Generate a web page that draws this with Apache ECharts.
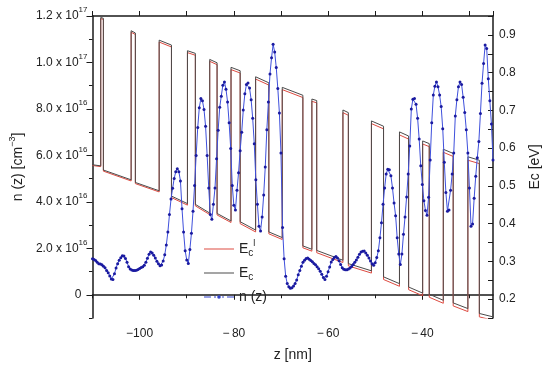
<!DOCTYPE html>
<html><head><meta charset="utf-8">
<script src="https://cdn.jsdelivr.net/npm/echarts@6/dist/echarts.min.js"></script>
<style>html,body{margin:0;padding:0;background:#fff}#c{width:550px;height:367px}</style>
</head><body><div id="c"></div>
<script>
// ---- data ----
const zEdges = [-110, -108.25, -107.69, -101.8, -100.9, -95.85, -93.24, -89.85, -88.17, -85.12, -83.56, -80.6, -78.66, -75.38, -72.57, -69.73, -65.35, -63.44, -62.41, -56.85, -55.7, -50.8, -48.23, -44.85, -42.91, -39.93, -38.53, -35.55, -33.45, -30.33, -27.9, -25];
const ecLeft  = [0.556,0.946,0.542,0.911,0.509,0.886,0.473,0.858,0.451,0.835,0.427,0.814,0.405,0.789,0.378,0.761,0.341,0.730,0.329,0.701,0.294,0.672,0.259,0.643,0.232,0.619,0.213,0.597,0.190,0.577,0.162];
const ecRight = [0.553,0.944,0.516,0.905,0.487,0.873,0.453,0.851,0.428,0.826,0.407,0.805,0.383,0.773,0.363,0.740,0.332,0.726,0.303,0.694,0.275,0.658,0.241,0.632,0.216,0.612,0.197,0.586,0.175,0.568,0.153];
const eclLeft  = [0.554,0.943,0.539,0.907,0.506,0.881,0.469,0.853,0.447,0.830,0.423,0.808,0.400,0.783,0.373,0.755,0.336,0.724,0.323,0.694,0.288,0.665,0.252,0.635,0.225,0.611,0.205,0.589,0.182,0.568,0.153];
const eclRight = [0.551,0.941,0.513,0.901,0.484,0.868,0.449,0.846,0.424,0.821,0.403,0.799,0.378,0.767,0.358,0.734,0.327,0.720,0.297,0.687,0.269,0.651,0.234,0.624,0.209,0.604,0.189,0.578,0.167,0.559,0.144];
const nZStart = -110, nPointsPerNm = 3;
// n(z) in units of 1e16 cm^-3, three samples per nm
const nValues = [
1.55,1.52,1.47, 1.40,1.34,1.32, 1.29,1.23,1.16, 1.05,0.95,0.81, 0.68,0.66,0.90, 1.15,1.34,1.49, 1.59,1.68,1.67, 1.56,1.40,1.21,
1.11,1.07,1.05, 1.05,1.06,1.09, 1.13,1.17,1.21, 1.27,1.40,1.57, 1.74,1.84,1.80, 1.70,1.58,1.44, 1.34,1.25,1.28, 1.45,1.72,2.14,
2.70,3.45,4.12, 4.58,5.00,5.30, 5.43,5.30,4.90, 3.70,2.70,1.90, 1.50,1.35,1.95, 2.65,3.60,4.70, 6.00,7.20,8.05, 8.45,8.35,7.98,
7.25,6.00,4.60, 3.45,3.25,3.90, 4.60,5.85,7.08, 8.07,8.55,9.02, 9.16,8.85,8.30, 7.40,6.30,4.70, 3.85,3.65,4.50, 5.25,6.20,7.00,
7.95,8.65,9.05, 9.12,8.90,8.40, 7.60,6.50,4.95, 3.90,2.95,2.75, 3.35,4.30,5.50, 7.10,8.30,9.50, 10.20,10.78,10.45, 9.78,8.88,7.82,
6.10,2.90,1.55, 0.80,0.48,0.34, 0.28,0.30,0.38, 0.49,0.64,0.86, 1.05,1.23,1.40, 1.49,1.56,1.58, 1.53,1.47,1.42, 1.35,1.29,1.21,
1.12,1.01,0.88, 0.74,0.66,0.80, 0.99,1.20,1.41, 1.52,1.60,1.65, 1.58,1.46,1.30, 1.16,1.10,1.08, 1.08,1.11,1.15, 1.22,1.30,1.40,
1.50,1.62,1.74, 1.84,1.87,1.88, 1.80,1.70,1.58, 1.45,1.33,1.27, 1.38,1.60,1.89, 2.45,3.10,3.90, 4.60,5.20,5.40, 5.38,5.12,4.60,
3.95,3.40,2.45, 1.75,1.30,1.75, 2.60,3.35,4.21, 5.20,6.40,8.00, 8.42,8.45,8.20, 7.60,6.70,5.55, 4.75,4.05,3.63, 3.42,4.20,5.80,
7.40,8.60,8.98, 9.16,8.95,8.60, 8.10,7.15,5.70, 4.40,3.60,3.65, 4.50,5.20,6.10, 7.70,8.40,8.95, 9.16,9.05,8.50, 7.85,7.10,6.10,
4.60,2.95,3.05, 4.15,5.10,5.90, 6.60,7.80,9.10, 9.95,10.75,10.60, 9.30,8.35,7.35, 5.80];
const xLabelTicks = [-100, -80, -60, -40];
const xMinorTicks = [-110, -90, -70, -50, -30];
const nLabelTicks = [0, 2, 4, 6, 8, 10, 12];
const nMinorTicks = [-1, 1, 3, 5, 7, 9, 11];

// ---- build ----
function steps(left, right) {
  const d = [];
  for (let i = 0; i < left.length; i++) {
    d.push([zEdges[i], left[i]]);
    d.push([zEdges[i + 1], right[i]]);
  }
  return d;
}
const nData = nValues.map((v, i) => [nZStart + i / nPointsPerNm, v]);

const FF = 'Liberation Sans, Arial, Helvetica, sans-serif';
const AX = '#1a1a1a';
const supRich = {
  a: { fontSize: 12, fontFamily: FF, color: '#222' },
  s: { fontSize: 8, fontFamily: FF, color: '#222', padding: [0, 0, 12, 0] },
  z: { fontSize: 12, fontFamily: FF, color: '#222', padding: [0, 6, 0, 0] }
};
function nLabel(v) {
  if (Math.abs(v) < 1e-9) return '{z|0}';
  if (v >= 10) return '{a|' + (v / 10).toFixed(1) + ' x 10}{s|17}';
  return '{a|' + v.toFixed(1) + ' x 10}{s|16}';
}
function xLabel(v) {
  const a = Math.abs(v);
  return '\u2212' + (a >= 100 ? '' : '\u2009') + a;
}

const chart = echarts.init(document.getElementById('c'), null, { renderer: 'canvas' });
const legendRich = {
  b: { fontSize: 14, fontFamily: FF, color: '#222' },
  sub: { fontSize: 10, fontFamily: FF, color: '#222', padding: [9, 0, 0, 0] },
  sup: { fontSize: 9, fontFamily: FF, color: '#222', padding: [0, 0, 11, 0] }
};
const legendLabels = {
  Ecl: '{b|E}{sub|c}{sup|l}',
  Ec: '{b|E}{sub|c}',
  nz: '{b|n (z)}'
};
const dashDotIcon = 'path://M0,2.5h7v1h-7z M10,2.5h2v1h-2z M18,2.5h2v1h-2z M23,2.5h7v1h-7z M13.2,3a1.8,1.8 0 1,0 3.6,0a1.8,1.8 0 1,0 -3.6,0z';
function mkLegend(name, icon, top, iconH, color) {
  return {
    data: [{ name: name, icon: icon }], left: 204, top: top, orient: 'vertical',
    itemWidth: 30, itemHeight: iconH, itemGap: 0, padding: 0,
    symbolKeepAspect: false, selectedMode: false,
    itemStyle: { color: color, borderWidth: 0 },
    formatter: n => legendLabels[n],
    textStyle: { fontSize: 14, fontFamily: FF, color: '#222', rich: legendRich }
  };
}

chart.setOption({
  animation: false,
  backgroundColor: '#fff',
  grid: { left: 91, top: 16, right: 54, bottom: 49, containLabel: false },
  legend: [
    mkLegend('Ecl', 'rect', 239, 1, '#dd4a40'),
    mkLegend('Ec', 'rect', 266, 1, '#4a4a4a'),
    mkLegend('nz', dashDotIcon, 290, 3.6, '#3344cc')
  ],
  xAxis: [
    {
      type: 'value', position: 'bottom', min: -110, max: -25,
      name: 'z [nm]', nameLocation: 'middle', nameGap: 30,
      nameTextStyle: { fontSize: 14, fontFamily: FF, color: '#222' },
      axisLine: { show: true, lineStyle: { color: AX, width: 1.5 } },
      axisTick: { show: true, length: 5, customValues: xLabelTicks, lineStyle: { color: AX, width: 1 } },
      axisLabel: { customValues: xLabelTicks, formatter: xLabel, fontSize: 12, fontFamily: FF, color: '#222', margin: 10 },
      splitLine: { show: false }
    },
    {
      type: 'value', position: 'bottom', min: -110, max: -25,
      axisLine: { show: false },
      axisTick: { show: true, length: 3.5, customValues: xMinorTicks, lineStyle: { color: AX, width: 1 } },
      axisLabel: { show: false }, splitLine: { show: false }
    },
    {
      type: 'value', position: 'top', min: -110, max: -25, interval: 10,
      axisLine: { show: true, lineStyle: { color: AX, width: 1.5 } },
      axisTick: { show: true, length: 5, lineStyle: { color: AX, width: 1 } },
      axisLabel: { show: false }, splitLine: { show: false }
    }
  ],
  yAxis: [
    {
      type: 'value', position: 'left', min: -1, max: 12,
      name: 'n (z) [cm{s|\u22123}]',
      nameLocation: 'middle', nameGap: 62, nameRotate: 90,
      nameTextStyle: { fontSize: 14, fontFamily: FF, color: '#222',
        rich: { s: { fontSize: 9, fontFamily: FF, color: '#222', padding: [0, 0, 11, 0] } } },
      axisLine: { show: true, lineStyle: { color: AX, width: 1.5 } },
      axisTick: { show: true, length: 6, customValues: nLabelTicks, lineStyle: { color: AX, width: 1 } },
      axisLabel: { customValues: nLabelTicks, formatter: nLabel, margin: 5, rich: supRich },
      splitLine: { show: false }
    },
    {
      type: 'value', position: 'right', min: 0.15, max: 0.95, interval: 0.05,
      name: 'Ec [eV]', nameLocation: 'middle', nameGap: 35, nameRotate: 90,
      nameTextStyle: { fontSize: 14, fontFamily: FF, color: '#222' },
      axisLine: { show: true, lineStyle: { color: AX, width: 1.5 } },
      axisTick: { show: true, inside: true, length: 5, lineStyle: { color: AX, width: 1 } },
      axisLabel: {
        formatter: v => (Math.round(v * 100) % 10 === 0 ? v.toFixed(1) : ''),
        fontSize: 12, fontFamily: FF, color: '#222', margin: 6
      },
      splitLine: { show: false }
    },
    {
      type: 'value', position: 'left', min: -1, max: 12,
      axisLine: { show: false },
      axisTick: { show: true, length: 3.5, customValues: nMinorTicks, lineStyle: { color: AX, width: 1 } },
      axisLabel: { show: false }, splitLine: { show: false }
    }
  ],
  series: [
    {
      name: 'Ecl', type: 'line', yAxisIndex: 1, data: steps(eclLeft, eclRight),
      symbol: 'none', lineStyle: { color: '#dd4a40', width: 1 }, itemStyle: { color: '#dd4a40' }, z: 2
    },
    {
      name: 'Ec', type: 'line', yAxisIndex: 1, data: steps(ecLeft, ecRight),
      symbol: 'none', lineStyle: { color: '#4a4a4a', width: 1 }, itemStyle: { color: '#4a4a4a' }, z: 3
    },
    {
      name: 'nz', type: 'line', yAxisIndex: 0, data: nData,
      symbol: 'circle', symbolSize: 3, showAllSymbol: true,
      lineStyle: { color: '#3f50dc', width: 1 }, itemStyle: { color: '#1a1aa0' }, z: 4
    }
  ]
});
</script></body></html>
